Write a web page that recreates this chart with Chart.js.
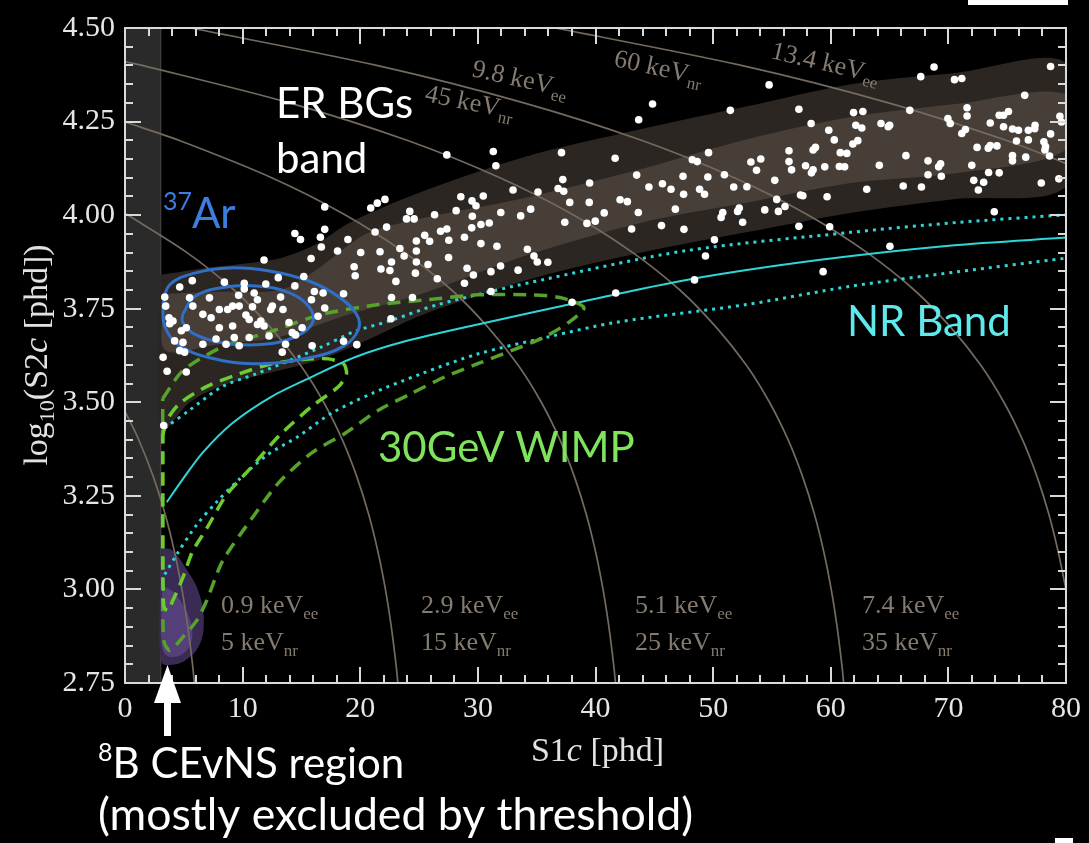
<!DOCTYPE html>
<html>
<head>
<meta charset="utf-8">
<script src="https://cdn.jsdelivr.net/npm/chart.js@4.4.1/dist/chart.umd.min.js"></script>
<style>
  html, body { margin: 0; padding: 0; background: #000; }
  #wrap { width: 1089px; height: 843px; }
</style>
</head>
<body>
<div id="wrap"><canvas id="chart" width="1089" height="843"></canvas></div>
<script>
// axis setup
const xTickValues = [0, 10, 20, 30, 40, 50, 60, 70, 80];
const yTickValues = [2.75, 3.00, 3.25, 3.50, 3.75, 4.00, 4.25, 4.50];
const yTickLabels = ['2.75', '3.00', '3.25', '3.50', '3.75', '4.00', '4.25', '4.50'];
const xMinorTicks = [0,2,4,6,8,10,12,14,16,18,20,22,24,26,28,30,32,34,36,38,40,42,44,46,48,50,52,54,56,58,60,62,64,66,68,70,72,74,76,78,80];
const yMinorTicks = [2.75,2.80,2.85,2.90,2.95,3.00,3.05,3.10,3.15,3.20,3.25,3.30,3.35,3.40,3.45,3.50,3.55,3.60,3.65,3.70,3.75,3.80,3.85,3.90,3.95,4.00,4.05,4.10,4.15,4.20,4.25,4.30,4.35,4.40,4.45,4.50];
const s1Threshold = 3.05; // S1c analysis threshold (shaded)

// ER background band, [S1c, log10 S2c]
const erOuterUpper = [[3.0,3.84],[5.0,3.85],[7.2,3.86],[10,3.87],[13.2,3.885],[16.1,3.92],[19.1,3.98],[25.0,4.06],[33.9,4.155],[43.9,4.23],[52.8,4.29],[61.7,4.35],[70.6,4.38],[80,4.405]];
const erOuterLower = [[3.0,3.42],[5.5,3.50],[8.3,3.545],[12.5,3.58],[16.7,3.615],[20.5,3.665],[25.0,3.73],[30.0,3.785],[35.1,3.835],[43.9,3.90],[52.8,3.954],[61.7,4.006],[70.6,4.043],[80,4.078]];
const erInnerUpper = [[3.4,3.79],[8,3.795],[13.2,3.80],[16.1,3.85],[20.5,3.95],[25.0,3.99],[33.9,4.045],[43.9,4.123],[52.8,4.202],[61.7,4.262],[70.6,4.297],[80,4.323]];
const erInnerLower = [[3.4,3.64],[8,3.655],[13.2,3.675],[19.1,3.735],[25.0,3.787],[33.9,3.89],[43.9,3.98],[52.8,4.033],[61.7,4.086],[70.6,4.112],[80,4.175]];

// constant-energy contours
const energyA = [[0,3.476],[1.17,3.4],[2.42,3.3],[3.42,3.2],[4.21,3.1],[4.84,3.0],[5.34,2.9],[5.74,2.8],[5.9,2.75]];
const energyB = [[0,4.005],[5.27,3.9],[9.27,3.8],[12.37,3.7],[14.9,3.6],[16.89,3.5],[18.47,3.4],[19.72,3.3],[20.72,3.2],[21.51,3.1],[22.14,3.0],[22.64,2.9],[23.04,2.8],[23.2,2.75]];
const energyC = [[0,4.249],[4.57,4.2],[12.47,4.1],[18.77,4.0],[23.77,3.9],[27.77,3.8],[30.87,3.7],[33.4,3.6],[35.39,3.5],[36.97,3.4],[38.22,3.3],[39.22,3.2],[40.01,3.1],[40.64,3.0],[41.14,2.9],[41.54,2.8],[41.7,2.75]];
const energyD = [[0,4.41],[1.47,4.4],[13.97,4.3],[23.97,4.2],[31.87,4.1],[38.17,4.0],[43.17,3.9],[47.17,3.8],[50.27,3.7],[52.8,3.6],[54.79,3.5],[56.37,3.4],[57.62,3.3],[58.62,3.2],[59.41,3.1],[60.04,3.0],[60.54,2.9],[60.94,2.8],[61.1,2.75]];
const energyE = [[5.6,4.5],[21.4,4.4],[33.9,4.3],[43.9,4.2],[51.8,4.1],[58.1,4.0],[63.1,3.9],[67.1,3.8],[70.2,3.7],[72.73,3.6],[74.72,3.5],[76.3,3.4],[77.55,3.3],[78.55,3.2],[79.34,3.1],[80,3.0]];
const energyF = [[36.6,4.5],[52.4,4.4],[64.9,4.3],[74.9,4.2],[80,4.138]];

// NR band
const nrMedian = [[3.55,3.233],[4.9,3.294],[6.59,3.365],[9.12,3.444],[12.5,3.516],[15.88,3.568],[19.59,3.621],[23.82,3.663],[29.98,3.708],[38.43,3.766],[47.72,3.827],[58.95,3.880],[70.27,3.919],[80,3.940]];
const nrUpper = [[3.38,3.431],[5.49,3.479],[8.28,3.542],[11.15,3.576],[13.94,3.611],[16.72,3.648],[19.59,3.690],[22.38,3.716],[26.6,3.761],[35.9,3.830],[47.7,3.905],[61.7,3.954],[70.6,3.980],[80,4.001]];
const nrLower = [[3.38,3.040],[4.39,3.093],[6.08,3.172],[7.77,3.233],[9.71,3.294],[11.99,3.357],[14.78,3.410],[17.57,3.471],[20.95,3.523],[25.17,3.576],[29.98,3.629],[35.9,3.674],[41.81,3.714],[52.8,3.761],[61.7,3.81],[70.6,3.848],[80,3.885]];

// 30 GeV WIMP contours
const wimpOuter = [[3.21,3.510],[4.90,3.584],[8.28,3.648],[12.5,3.690],[16.72,3.735],[21.54,3.761],[25.76,3.774],[29.98,3.787],[34.21,3.787],[36.99,3.780],[39.02,3.753],[37.84,3.716],[35.64,3.674],[32.77,3.637],[29.98,3.603],[27.2,3.568],[24.32,3.523],[21.54,3.479],[18.75,3.418],[15.88,3.365],[13.09,3.286],[10.56,3.180],[8.28,3.075],[6.93,2.969],[6.08,2.916],[4.90,2.872],[3.80,2.837],[3.29,2.864],[3.21,3.075],[3.21,3.286],[3.21,3.510]];
const wimpInner = [[3.21,3.410],[3.55,3.452],[4.65,3.497],[6.93,3.542],[9.71,3.576],[12.5,3.603],[15.88,3.616],[17.31,3.616],[18.58,3.603],[18.83,3.576],[18.16,3.542],[15.88,3.489],[13.09,3.410],[10.56,3.320],[8.61,3.252],[6.93,3.162],[5.74,3.101],[4.90,3.030],[4.05,2.969],[3.63,2.943],[3.29,2.956],[3.21,3.180],[3.21,3.410]];

// 37Ar calibration contours
const ar37Outer = [[3.21,3.761],[3.80,3.814],[5.91,3.845],[8.87,3.859],[12.25,3.851],[15.63,3.824],[18.16,3.782],[19.68,3.735],[19.85,3.695],[18.58,3.650],[15.63,3.619],[11.4,3.603],[7.18,3.619],[4.48,3.655],[3.38,3.703],[3.21,3.761]];
const ar37Inner = [[4.90,3.735],[5.91,3.782],[8.19,3.806],[11.15,3.811],[13.94,3.793],[15.63,3.756],[15.96,3.714],[14.61,3.677],[11.82,3.655],[8.45,3.658],[5.91,3.682],[4.90,3.714],[4.90,3.735]];

// 8B CEvNS region
const b8Outer = [[3.1,3.11],[4.0,3.105],[5.2,3.055],[6.3,2.99],[6.7,2.915],[6.3,2.85],[5.1,2.81],[3.8,2.798],[3.1,2.806],[2.95,2.95],[3.1,3.11]];
const b8Inner = [[3.2,3.01],[4.2,2.99],[5.4,2.93],[5.7,2.87],[5.0,2.83],[3.8,2.82],[3.2,2.84],[3.1,2.93],[3.2,3.01]];

// observed events
const events = [
  [5.72,3.825],[4.65,3.808],[3.38,3.781],[3.46,3.757],[8.45,3.821],[10.14,3.818],[10.14,3.803],[11.97,3.816],[13.03,3.833],[14.44,3.811],
  [18.58,3.663],[19.71,3.654],[7.18,3.779],[5.49,3.779],[5.77,3.757],[6.62,3.735],[8.02,3.748],[8.73,3.748],[9.15,3.757],[9.71,3.757],
  [9.66,3.786],[10.98,3.792],[11.26,3.774],[10.84,3.755],[10.28,3.733],[10.56,3.721],[11.26,3.708],[11.82,3.704],[11.54,3.717],[12.53,3.757],
  [12.39,3.748],[13.23,3.781],[13.43,3.748],[13.94,3.713],[15.06,3.699],[14.22,3.686],[14.5,3.680],[12.25,3.677],[10.56,3.673],[9.29,3.673],
  [8.59,3.655],[8.02,3.699],[7.32,3.726],[5.21,3.699],[4.79,3.691],[4.22,3.664],[4.93,3.660],[4.08,3.717],[3.74,3.726],[3.8,3.710],
  [4.65,3.638],[5.07,3.634],[6.62,3.655],[7.74,3.669],[9.71,3.651],[9.15,3.704],[13.65,3.655],[15.91,3.651],[13.37,3.634],[3.24,3.620],
  [3.58,3.583],[5.21,3.581],[3.29,3.438],[14.44,3.951],[11.82,3.880],
  [27.36,4.161],[31.31,4.170],[31.53,4.132],[37.11,4.167],[41.67,4.152],[43.5,4.107],[37.22,4.095],[39.5,4.086],[44.54,4.075],[45.69,4.084],
  [46.42,4.069],[47.44,4.104],[47.49,4.056],[32.99,4.067],[35.11,4.062],[36.82,4.071],[37.3,4.064],[28.55,4.049],[30.46,4.051],[29.5,4.038],
  [29.84,4.025],[22.1,4.042],[21.45,4.032],[20.89,4.019],[16.98,4.022],[24.21,4.010],[23.93,3.990],[24.58,3.990],[26.32,4.001],[28.15,4.012],
  [29.53,3.997],[31.95,4.007],[33.64,3.998],[34.49,4.016],[37.81,4.034],[39.47,4.034],[42.09,4.041],[42.71,4.036],[40.74,4.006],[43.64,4.007],
  [46.79,4.016],[37.39,3.981],[39.27,3.978],[39.98,3.984],[43.07,3.963],[45.61,3.972],[47.52,3.962],[30.26,3.975],[30.97,3.979],[29.48,3.966],
  [22.24,3.968],[21.26,3.955],[16.98,3.962],[16.61,3.941],[16.69,3.915],[14.92,3.935],[18.95,3.935],[26.83,3.957],[27.36,3.963],[25.48,3.946],
  [24.77,3.931],[25.9,3.930],[27.53,3.933],[28.86,3.941],[30.26,3.924],[31.62,3.917],[34.21,3.909],[34.77,3.891],[35.05,3.875],[35.95,3.874],
  [18.07,3.904],[20.04,3.900],[21.68,3.902],[23.37,3.911],[23.73,3.891],[24.77,3.904],[24.77,3.875],[25.76,3.868],[27.51,3.887],[15.82,3.884],
  [19.48,3.862],[19.57,3.838],[21.76,3.856],[22.52,3.852],[22.66,3.875],[24.69,3.845],[26.55,3.830],[29.08,3.858],[29.62,3.840],[31.11,3.849],
  [31.93,3.864],[33.42,3.853],[23.03,3.823],[28.86,3.818],[18.58,3.790],[22.66,3.780],[24.44,3.780],[31.11,3.796],[38.01,3.767],[41.72,3.792],
  [22.61,3.723],[16.1,3.796],[16.84,3.792],[16.98,3.752],[15.85,3.774],[15.2,3.836],[16.41,3.730],
  [54.76,4.348],[51.46,4.280],[57.29,4.283],[58.33,4.245],[59.83,4.227],[60.3,4.201],[61.94,4.274],[62.73,4.277],[62.13,4.240],[62.64,4.233],
  [62.3,4.199],[61.88,4.190],[64.27,4.245],[64.89,4.236],[65.01,4.240],[67.65,4.370],[68.78,4.396],[70.52,4.362],[71.14,4.365],[66.72,4.280],
  [69.96,4.258],[70.16,4.245],[71.59,4.287],[71.59,4.265],[71.45,4.229],[71.14,4.218],[73.56,4.246],[74.32,4.267],[74.69,4.267],[75.11,4.277],
  [74.69,4.236],[75.45,4.230],[75.96,4.227],[76.8,4.227],[77.37,4.240],[77.34,4.231],[76.49,4.320],[78.69,4.397],[79.48,4.264],[79.62,4.249],
  [78.69,4.217],[78.12,4.196],[78.26,4.183],[78.21,4.174],[78.6,4.158],[76.8,4.201],[75.79,4.198],[76.58,4.155],[75.45,4.159],[75.45,4.145],
  [73.56,4.186],[74.13,4.185],[73.39,4.179],[72.44,4.181],[71.99,4.133],[73.42,4.114],[74.32,4.113],[72.16,4.093],[73.0,4.088],[72.55,4.067],
  [77.9,4.086],[79.39,4.097],[73.9,4.009],[69.4,4.104],[69.34,4.137],[69.17,4.129],[68.27,4.145],[68.27,4.108],[67.71,4.075],[66.39,4.159],
  [66.16,4.078],[64.13,4.133],[63.06,4.069],[60.81,4.167],[61.37,4.165],[60.73,4.130],[61.18,4.129],[59.49,4.129],[58.5,4.174],[58.7,4.181],
  [57.86,4.132],[58.5,4.121],[58.36,4.113],[56.45,4.172],[56.45,4.143],[56.67,4.121],[54.05,4.150],[53.21,4.142],[53.69,4.120],[55.24,4.093],
  [52.87,4.076],[51.75,4.075],[50.96,4.108],[49.55,4.102],[49.61,4.167],[48.23,4.148],[48.65,4.143],[48.85,4.069],[49.27,4.056],[57.43,4.054],
  [57.63,4.052],[59.69,4.049],[55.41,4.042],[56.11,4.023],[55.55,4.010],[54.39,4.014],[52.22,4.019],[52.08,4.010],[52.51,3.981],[50.82,4.007],
  [50.68,3.994],[57.29,3.970],[59.91,3.969],[50.11,3.934],[49.35,3.891],[65.03,3.917],[59.35,3.849],[48.42,3.827],[44.85,4.297],[43.67,4.255]
];

const toXY = arr => arr.map(p => ({ x: p[0], y: p[1] }));
const closeBand = (upper, lower) => upper.concat(lower.slice().reverse()).concat([upper[0]]);

function lineDs(pts, color, width, dash, order, tension) {
  return {
    data: toXY(pts), borderColor: color, borderWidth: width, borderDash: dash,
    pointRadius: 0, fill: false, tension: tension, order: order, clip: 0
  };
}
function areaDs(pts, color, order, tension) {
  return {
    data: toXY(pts), borderWidth: 0, borderColor: color, backgroundColor: color,
    pointRadius: 0, fill: 'shape', tension: tension, order: order, clip: 0
  };
}

const SERIF = 'Liberation Serif';
const SANS = 'Lato';

function runs(ctx, x, y, parts, family) {
  let cx = x;
  for (const p of parts) {
    ctx.font = (p[3] ? 'italic ' : '') + p[1] + 'px "' + family + '"';
    ctx.fillText(p[0], cx, y + (p[2] || 0));
    cx += ctx.measureText(p[0]).width;
  }
  return cx - x;
}
function runsWidth(ctx, parts, family) {
  let w = 0;
  for (const p of parts) {
    ctx.font = (p[3] ? 'italic ' : '') + p[1] + 'px "' + family + '"';
    w += ctx.measureText(p[0]).width;
  }
  return w;
}
function energyLabel(ctx, x, y, main, sub, angle) {
  ctx.save();
  ctx.translate(x, y);
  ctx.rotate(angle || 0);
  runs(ctx, 0, 0, [[main, 26, 0], [sub, 17, 6]], SERIF);
  ctx.restore();
}
// text stretched to a given width
function fitText(ctx, text, x, y, width, size) {
  ctx.font = size + 'px "' + SANS + '"';
  const s = size * width / ctx.measureText(text).width;
  ctx.font = s.toFixed(1) + 'px "' + SANS + '"';
  ctx.fillText(text, x, y);
}

// frame with inward ticks on every side
function drawFrame(chart) {
  const ctx = chart.ctx;
  const a = chart.chartArea;
  const xs = chart.scales.x, ys = chart.scales.y;
  const L = Math.round(a.left), R = Math.round(a.right), T = Math.round(a.top), B = Math.round(a.bottom);
  ctx.save();
  ctx.globalAlpha = 1;
  ctx.globalCompositeOperation = 'source-over';
  ctx.fillStyle = '#dadada';
  xMinorTicks.forEach(function (v) {
    const px = Math.round(xs.getPixelForValue(v)) - 1;
    const len = (v % 10 === 0) ? 16 : 8;
    ctx.fillRect(px, B - len, 2, len);
    ctx.fillRect(px, T, 2, len);
  });
  yMinorTicks.forEach(function (v, k) {
    const py = Math.round(ys.getPixelForValue(v)) - 1;
    const len = (k % 5 === 0) ? 16 : 8;
    ctx.fillRect(L, py, len, 2);
    ctx.fillRect(R - len, py, len, 2);
  });
  ctx.fillRect(L - 1, T - 1, R - L + 2, 2);
  ctx.fillRect(L - 1, B - 1, R - L + 2, 2);
  ctx.fillRect(L - 1, T - 1, 2, B - T + 2);
  ctx.fillRect(R - 1, T - 1, 2, B - T + 2);
  ctx.restore();
}

const decor = {
  id: 'decor',
  beforeDatasetsDraw(chart) {
    const { ctx, chartArea: a, scales: { x } } = chart;
    const xr = x.getPixelForValue(s1Threshold);
    ctx.save();
    ctx.fillStyle = '#2a2a2a';
    ctx.fillRect(a.left, a.top, xr - a.left, a.bottom - a.top);
    ctx.fillStyle = '#3c3c3c';
    ctx.fillRect(xr - 1, a.top, 1.5, a.bottom - a.top);
    ctx.restore();
  },
  afterDatasetsDraw(chart) {
    const { ctx } = chart;
    ctx.save();
    ctx.fillStyle = '#857b70';
    ctx.textBaseline = 'alphabetic';
    ctx.textAlign = 'left';
    energyLabel(ctx, 221, 613, '0.9 keV', 'ee');
    energyLabel(ctx, 221, 650, '5 keV', 'nr');
    energyLabel(ctx, 421, 613, '2.9 keV', 'ee');
    energyLabel(ctx, 421, 650, '15 keV', 'nr');
    energyLabel(ctx, 635, 613, '5.1 keV', 'ee');
    energyLabel(ctx, 635, 650, '25 keV', 'nr');
    energyLabel(ctx, 862, 613, '7.4 keV', 'ee');
    energyLabel(ctx, 862, 650, '35 keV', 'nr');
    energyLabel(ctx, 471, 76, '9.8 keV', 'ee', 0.22);
    energyLabel(ctx, 424, 101, '45 keV', 'nr', 0.2);
    energyLabel(ctx, 613, 66, '60 keV', 'nr', 0.21);
    energyLabel(ctx, 770, 58, '13.4 keV', 'ee', 0.23);
    ctx.restore();
  },
  afterDraw(chart) {
    const { ctx, chartArea: a } = chart;
    drawFrame(chart);
    ctx.save();
    ctx.textBaseline = 'alphabetic';
    ctx.textAlign = 'left';

    // axis titles
    ctx.fillStyle = '#e2e2e2';
    const xt = [['S1', 34], ['c', 34, 0, true], [' [phd]', 34]];
    const xw = runsWidth(ctx, xt, SERIF);
    runs(ctx, (a.left + a.right) / 2 - xw / 2 + 2, 761, xt, SERIF);
    const yt = [['log', 34], ['10', 22, 7], ['(S2', 34], ['c', 34, 0, true], [' [phd])', 34]];
    const yw = runsWidth(ctx, yt, SERIF);
    ctx.save();
    ctx.translate(47, 355);
    ctx.rotate(-Math.PI / 2);
    runs(ctx, -yw / 2, 0, yt, SERIF);
    ctx.restore();

    // annotations
    ctx.fillStyle = '#ffffff';
    ctx.font = '42px "' + SANS + '"';
    ctx.fillText('ER BGs', 276, 118);
    ctx.fillText('band', 276, 173);

    ctx.fillStyle = '#3b7de0';
    runs(ctx, 163, 228, [['37', 25, -18], ['Ar', 42, 0]], SANS);

    ctx.fillStyle = '#5fe9ec';
    ctx.font = '42px "' + SANS + '"';
    ctx.fillText('NR Band', 847, 336);

    ctx.fillStyle = '#7fe35c';
    ctx.fillText('30GeV WIMP', 378, 462);

    ctx.fillStyle = '#ffffff';
    runs(ctx, 98, 778, [['8', 25, -17], ['B CEvNS region', 42, 0]], SANS);
    fitText(ctx, '(mostly excluded by threshold)', 98, 830, 595, 42);

    // arrow pointing at the threshold corner
    ctx.beginPath();
    ctx.moveTo(167.5, 665);
    ctx.lineTo(181, 703);
    ctx.lineTo(154, 703);
    ctx.closePath();
    ctx.fill();
    ctx.fillRect(164, 700, 7, 36);

    // slide artefacts
    ctx.fillRect(968, 0, 100, 5);
    ctx.fillRect(1055, 838, 18, 5);
    ctx.restore();
  }
};

const datasets = [
  { data: toXY(events), showLine: false, pointRadius: 3.8, pointHoverRadius: 3.8,
    pointBackgroundColor: '#ffffff', pointBorderWidth: 0, order: 0, clip: 0 },
  lineDs(ar37Inner, '#2f6fc8', 3, [], 1, 0.4),
  lineDs(ar37Outer, '#2f6fc8', 3, [], 1, 0.4),
  lineDs(wimpInner, '#6ccb2e', 3.5, [13, 8], 2, 0.25),
  lineDs(wimpOuter, '#56a22b', 3.5, [13, 8], 2, 0.25),
  lineDs(nrMedian, '#2fd6d8', 2, [], 3, 0.3),
  lineDs(nrUpper, '#2fd6d8', 3, [3, 5], 3, 0.3),
  lineDs(nrLower, '#2fd6d8', 3, [3, 5], 3, 0.3),
  lineDs(energyA, '#746a5f', 1.7, [], 4, 0.3),
  lineDs(energyB, '#746a5f', 1.7, [], 4, 0.3),
  lineDs(energyC, '#746a5f', 1.7, [], 4, 0.3),
  lineDs(energyD, '#746a5f', 1.7, [], 4, 0.3),
  lineDs(energyE, '#746a5f', 1.7, [], 4, 0.3),
  lineDs(energyF, '#746a5f', 1.7, [], 4, 0.3),
  areaDs(b8Inner, '#55407a', 5, 0.4),
  areaDs(b8Outer, '#3a2b55', 6, 0.4),
  areaDs(closeBand(erInnerUpper, erInnerLower), '#463e37', 7, 0.3),
  areaDs(closeBand(erOuterUpper, erOuterLower), '#2b2622', 8, 0.3)
];

new Chart(document.getElementById('chart'), {
  type: 'line',
  data: { datasets: datasets },
  options: {
    responsive: false,
    animation: false,
    layout: { padding: { left: 0, right: 17, top: 20, bottom: 0 } },
    plugins: { legend: { display: false }, tooltip: { enabled: false } },
    scales: {
      x: {
        type: 'linear', min: 0, max: 80,
        grid: { display: false, drawTicks: false },
        border: { display: false },
        afterBuildTicks: s => { s.ticks = xTickValues.map(v => ({ value: v })); },
        afterFit: s => { s.height = 160; },
        ticks: { color: '#e6e6e6', padding: 8, maxRotation: 0, font: { family: SERIF, size: 30 } }
      },
      y: {
        type: 'linear', min: 2.75, max: 4.5,
        grid: { display: false, drawTicks: false },
        border: { display: false },
        afterBuildTicks: s => { s.ticks = yTickValues.map(v => ({ value: v })); },
        afterFit: s => { s.width = 125; },
        ticks: { color: '#e6e6e6', padding: 10, font: { family: SERIF, size: 30 },
                 callback: (v, i) => yTickLabels[i] }
      }
    }
  },
  plugins: [decor]
});
</script>
</body>
</html>
